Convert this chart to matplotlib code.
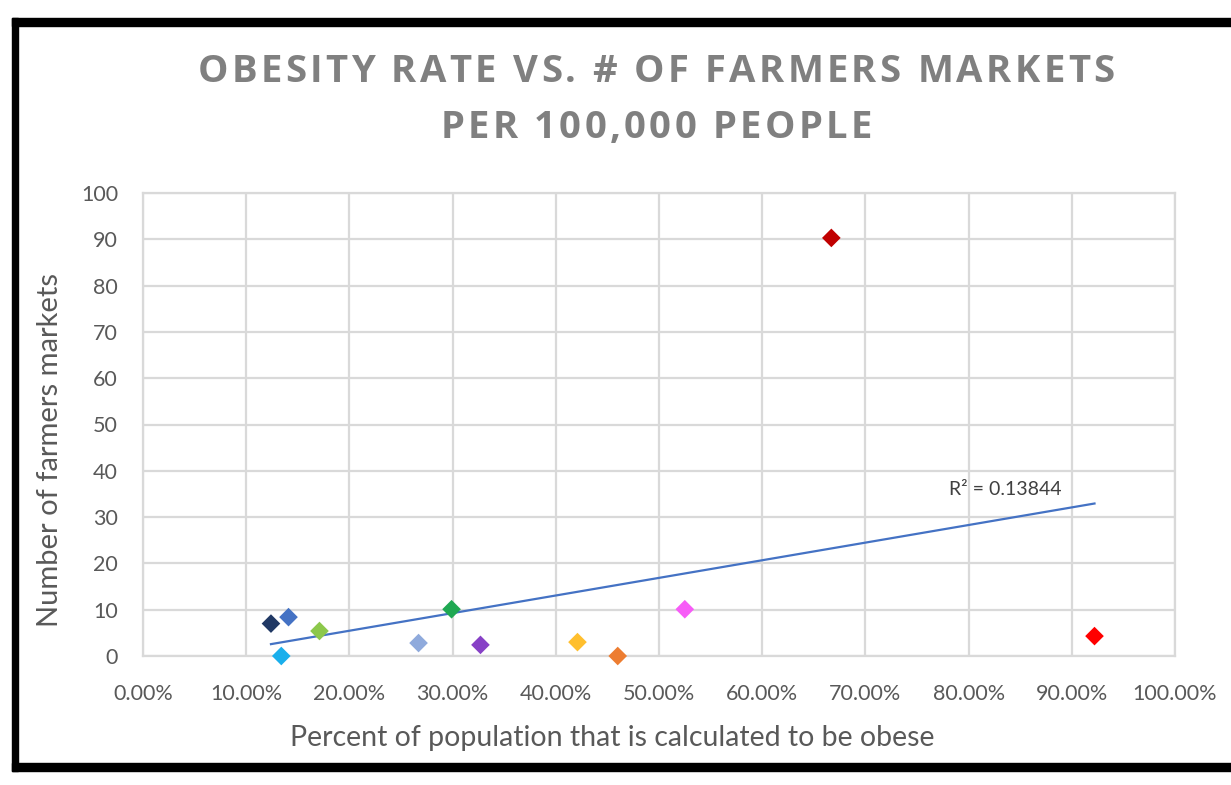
import matplotlib
matplotlib.use("Agg")
import matplotlib.pyplot as plt
from matplotlib.patches import Rectangle
from matplotlib.ticker import PercentFormatter, MultipleLocator
import numpy as np

# Obesity share (fraction of population) and farmers markets per 100,000 people
obesity = [0.124, 0.141, 0.134, 0.171, 0.267, 0.299, 0.327, 0.421, 0.460, 0.525, 0.667, 0.922]
markets = [7.0, 8.4, 0.0, 5.4, 2.8, 10.1, 2.4, 3.0, 0.0, 10.1, 90.3, 4.3]
colors = ["#203864", "#4472C4", "#1AAFEC", "#8CC84B", "#8FAADC", "#1FA852",
          "#8741C6", "#FFBF2E", "#ED7D31", "#F75CF7", "#C00000", "#FF0000"]
r2_label = "R² = 0.13844"

title_lines = ["OBESITY RATE VS. # OF FARMERS MARKETS", "PER 100,000 PEOPLE"]
x_label = "Percent of population that is calculated to be obese"
y_label = "Number of farmers markets"

W, H = 1231, 785
fig = plt.figure(figsize=(W / 100, H / 100), dpi=100)
fig.patch.set_facecolor("white")

ax = fig.add_axes([143 / W, (H - 656) / H, (1175 - 143) / W, (656 - 193) / H])
ax.set_xlim(0, 1)
ax.set_ylim(0, 100)
ax.xaxis.set_major_locator(MultipleLocator(0.1))
ax.yaxis.set_major_locator(MultipleLocator(10))
ax.xaxis.set_major_formatter(PercentFormatter(1.0, decimals=2))

grid_c = "#D9D9D9"
ax.grid(True, color=grid_c, linewidth=1.6)
ax.set_axisbelow(True)
for s in ax.spines.values():
    s.set_color(grid_c)
    s.set_linewidth(1.6)
ax.tick_params(length=0, labelsize=15.5, labelcolor="#595959")
ax.tick_params(axis="x", pad=20)
ax.tick_params(axis="y", pad=18)
for lab in ax.get_xticklabels() + ax.get_yticklabels():
    lab.set_fontfamily("Lato")

# linear trendline over the observed range
x = np.array(obesity)
y = np.array(markets)
slope, intercept = np.polyfit(x, y, 1)
xs = np.array([x.min(), x.max()])
ax.plot(xs, slope * xs + intercept, color="#4472C4", linewidth=1.6, zorder=2)

ax.scatter(x, y, marker="D", s=9.5 ** 2, c=colors, linewidths=0, zorder=3, clip_on=False)

ax.text(0.781, 35.9, r2_label, fontsize=14, color="#404040", family="Lato",
        ha="left", va="center")

# title drawn glyph by glyph so the letters can be tracked out
renderer = fig.canvas.get_renderer()
title_kw = dict(fontsize=27.5, fontweight="bold", color="#808080", family="Open Sans")


def text_width(s):
    t = fig.text(0, 0, s, **title_kw)
    w = t.get_window_extent(renderer).width
    t.remove()
    return w


base = text_width("II")


def advance(c):
    return text_width("I" + c + "I") - base


tracking = 3.3
for i, line in enumerate(title_lines):
    adv = [advance(c) for c in line]
    total = sum(adv) + tracking * (len(line) - 1)
    xpos = 656 - total / 2
    ypos = H - (72 + 56 * i)
    for c, a in zip(line, adv):
        if c != " ":
            fig.text(xpos / W, ypos / H, c, ha="left", va="center", **title_kw)
        xpos += a + tracking

fig.text(612 / W, 1 - 738 / H, x_label, ha="center", va="center",
         fontsize=20.5, color="#595959", family="Lato")
fig.text(50 / W, 1 - 450 / H, y_label, ha="center", va="center", rotation=90,
         fontsize=21, color="#595959", family="Lato")

# black frame around the chart area
fig.add_artist(Rectangle((12 / W, 1 - 26 / H), 1, 8 / H, transform=fig.transFigure,
                         color="black", zorder=10))
fig.add_artist(Rectangle((12 / W, 1 - 771 / H), 6 / W, 753 / H, transform=fig.transFigure,
                         color="black", zorder=10))
fig.add_artist(Rectangle((12 / W, 1 - 771 / H), 1, 8 / H, transform=fig.transFigure,
                         color="black", zorder=10))

fig.savefig("out.png", dpi=100)
